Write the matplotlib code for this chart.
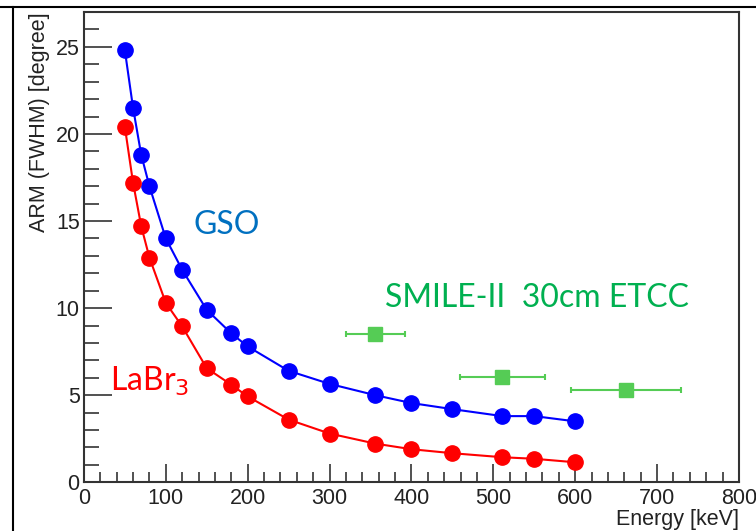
import matplotlib
matplotlib.use("Agg")
import matplotlib.pyplot as plt
from matplotlib.lines import Line2D
from matplotlib.ticker import MultipleLocator

# GSO scintillator
gso_energy = [50, 60, 70, 80, 100, 120, 150, 180, 200, 250, 300, 356, 400, 450, 511, 550, 600]
gso_arm = [24.8, 21.5, 18.8, 17.0, 14.0, 12.2, 9.9, 8.55, 7.8, 6.4, 5.65, 5.0, 4.55, 4.2, 3.8, 3.8, 3.5]

# LaBr3 scintillator
labr_energy = [50, 60, 70, 80, 100, 120, 150, 180, 200, 250, 300, 356, 400, 450, 511, 550, 600]
labr_arm = [20.4, 17.2, 14.7, 12.9, 10.3, 8.95, 6.55, 5.6, 4.93, 3.6, 2.8, 2.22, 1.9, 1.67, 1.44, 1.35, 1.15]

# SMILE-II 30cm ETCC
smile_energy = [356, 511, 662]
smile_arm = [8.52, 6.03, 5.3]
smile_xerr = [36, 52, 67]

plt.rcParams['font.family'] = ['Liberation Sans', 'DejaVu Sans']

fig = plt.figure(figsize=(7.56, 5.31), dpi=100)
ax = fig.add_axes([0.111, 0.0917, 0.8665, 0.8857])

ax.plot(gso_energy, gso_arm, color='#0000ff', lw=1.5, marker='o', ms=11, zorder=3)
ax.plot(labr_energy, labr_arm, color='#ff0000', lw=1.5, marker='o', ms=11, zorder=3)
ax.errorbar(smile_energy, smile_arm, xerr=smile_xerr, fmt='s', color='#55cc55',
            ms=10, elinewidth=1.5, capsize=2, capthick=1.5, zorder=3)

ax.set_xlim(0, 800)
ax.set_ylim(0, 27)
ax.xaxis.set_major_locator(MultipleLocator(100))
ax.xaxis.set_minor_locator(MultipleLocator(20))
ax.yaxis.set_major_locator(MultipleLocator(5))
ax.yaxis.set_minor_locator(MultipleLocator(1))
ax.tick_params(axis='both', which='both', direction='in', color='#333333', width=1.2,
               labelsize=15.5, labelcolor='#222222')
ax.tick_params(axis='x', which='major', length=13, pad=4)
ax.tick_params(axis='x', which='minor', length=7)
ax.tick_params(axis='y', which='major', length=20, pad=3)
ax.tick_params(axis='y', which='minor', length=11)

for s in ax.spines.values():
    s.set_color('#333333')
    s.set_linewidth(1.5)

ax.set_xlabel('Energy [keV]', fontsize=15.5, color='#222222', loc='right', labelpad=0)
ax.set_ylabel('ARM (FWHM) [degree]', fontsize=15.5, color='#222222', loc='top', labelpad=4)

ax.text(174, 14.8, 'GSO', color='#0070c0', fontsize=23, family=['Lato', 'DejaVu Sans'],
        ha='center', va='center')
ax.text(32, 5.8, 'LaBr$_3$', color='#ff0000', fontsize=23, family=['Lato', 'DejaVu Sans'],
        ha='left', va='center')
ax.text(368, 10.6, 'SMILE-II  30cm ETCC', color='#00b050', fontsize=23,
        family=['Lato', 'DejaVu Sans'], ha='left', va='center')

# outer frame lines (top and left)
fig.add_artist(Line2D([0, 1], [0.987, 0.987], color='black', lw=1.5))
fig.add_artist(Line2D([0.0172, 0.0172], [0, 0.987], color='black', lw=1.5))

fig.savefig('out.png', dpi=100)
